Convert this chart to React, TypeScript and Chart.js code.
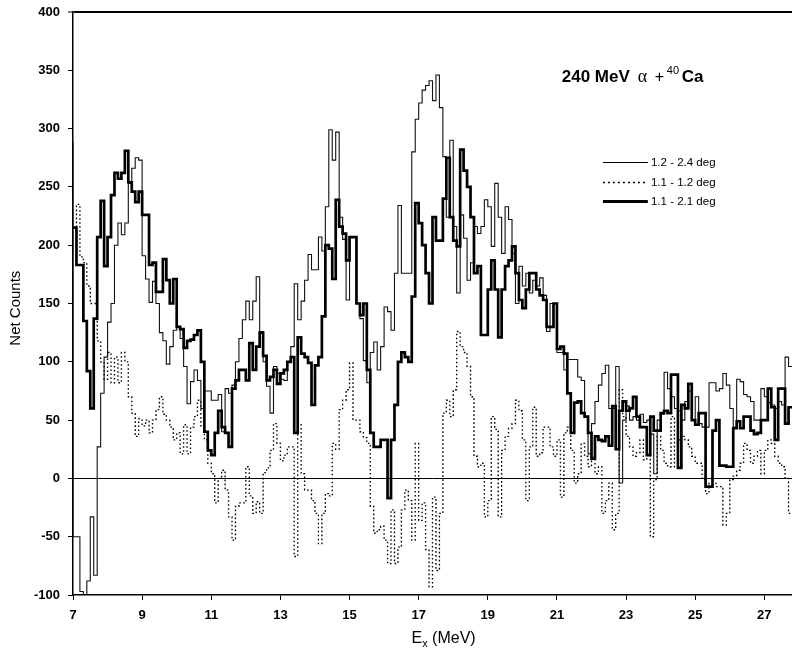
import React, { useEffect, useRef } from "react";
import { Chart, registerables } from "chart.js";

Chart.register(...registerables);

// ---- data -------------------------------------------------------------
const BIN_WIDTH = 0.1; // MeV per histogram channel
const BIN_START = 7.0; // first channel (thick and dotted spectra)
const THIN_START = 6.9; // thin spectrum has one channel just left of the axis

const X_MIN = 7;
const X_MAX = 27.8;
const Y_MIN = -100;
const Y_MAX = 400;
const X_TICKS = [7, 9, 11, 13, 15, 17, 19, 21, 23, 25, 27];
const Y_TICKS = [-100, -50, 0, 50, 100, 150, 200, 250, 300, 350, 400];

const SERIES_LABELS = ["1.2 - 2.4 deg", "1.1 - 1.2 deg", "1.1 - 2.1 deg"];

// 1.2 - 2.4 deg (thin line), channels from 6.9 MeV
const thinCounts: number[] = [
  288,
  -50, -50, -97, -105, -88, -33, -83, 27, 73, 104,
  134, 150, 200, 219, 209, 219, 253, 266, 275, 273,
  191, 171, 151, 169, 150, 125, 118, 98, 113, 127,
  130, 120, 96, 64, 83, 93, 84, 60, 75, 75,
  67, 67, 72, 40, 77, 73, 80, 100, 120, 136,
  152, 136, 152, 173, 126, 100, 79, 56, 96, 90,
  85, 84, 100, 113, 167, 136, 152, 170, 192, 179,
  179, 207, 195, 233, 299, 273, 297, 224, 205, 153,
  207, 207, 150, 137, 101, 82, 108, 117, 93, 113,
  147, 143, 127, 176, 234, 176, 176, 176, 280, 308,
  322, 333, 337, 341, 324, 346, 318, 276, 224, 290,
  216, 159, 226, 206, 170, 185, 216, 210, 216, 239,
  233, 199, 253, 224, 193, 233, 222, 193, 150, 182,
  165, 176, 159, 170, 165, 172, 157, 126, 150, 150,
  108, 108, 93, 102, 102, 102, 87, 84, 53, 21,
  47, 66, 80, 90, 97, 60, 60, 96, -4, 50,
  62, 50, 53, 50, 55, 48, 50, 38, 4, 50,
  55, 91, 77, 70, 60, 58, 50, 66, 75, 50,
  70, 47, 44, 44, 82, 82, 75, 77, 90, 80,
  60, 44, 85, 83, 72, 70, 66, 50, 50, 77,
  70, 65, 63, 60, 66, 63, 104, 96,
];

// 1.1 - 1.2 deg (dotted line), channels from 7.0 MeV
const dottedCounts: number[] = [
  215, 235, 190, 185, 165, 150, 150, 118, 100, 85,
  108, 82, 104, 82, 108, 100, 70, 56, 36, 51,
  45, 50, 39, 50, 59, 70, 55, 50, 44, 33,
  39, 21, 46, 21, 44, 53, 67, 45, 33, 13,
  4, -21, 0, 7, -10, -33, -53, -24, -21, -21,
  10, -15, -30, -20, -30, 5, 9, 24, 47, 30,
  15, 20, 27, 27, -67, 47, 4, -10, -10, -19,
  -30, -56, -30, -13, -15, 30, 25, 59, 67, 76,
  99, 50, 50, 40, 35, 30, -24, -47, -44, -41,
  -53, -73, -27, -73, -59, -27, -10, -19, -53, 30,
  -36, -21, -61, -93, -16, -79, -30, 56, 67, 53,
  76, 126, 113, 108, 96, 70, 19, 10, 13, -33,
  -19, 53, 42, -33, 24, 36, 43, 47, 67, 58,
  33, -19, 27, 61, 19, 22, 44, 44, 27, 19,
  33, -16, 39, 44, 24, -4, 4, 30, 19, 10,
  19, 4, 10, -30, -19, -4, -44, -30, 76, 53,
  36, 27, 19, 22, 33, 16, 27, -50, -1, 36,
  24, 13, 10, 53, 10, 33, 36, 33, 27, 19,
  13, 13, -1, -13, -4, -4, -7, -7, -40, -30,
  -1, 2, 7, 13, 30, 24, 13, 19, 24, 4,
  24, 33, 30, 19, 13, 10, 0, -30,
];

// 1.1 - 2.1 deg (thick line), channels from 7.0 MeV
const thickCounts: number[] = [
  215, 183, 183, 135, 92, 60, 137, 207, 238, 182,
  207, 243, 262, 257, 262, 281, 254, 246, 237, 246,
  226, 226, 183, 185, 160, 160, 188, 170, 150, 171,
  130, 128, 112, 118, 119, 123, 127, 100, 40, 24,
  20, 39, 58, 44, 39, 27, 77, 84, 93, 93,
  84, 116, 93, 113, 125, 105, 84, 87, 93, 81,
  90, 93, 100, 104, 39, 121, 107, 104, 99, 63,
  97, 104, 139, 200, 197, 171, 239, 216, 210, 187,
  207, 207, 150, 140, 150, 93, 39, 27, 27, 33,
  33, -17, 33, 63, 100, 108, 104, 100, 156, 236,
  219, 200, 176, 150, 224, 204, 204, 240, 275, 224,
  204, 199, 282, 264, 250, 224, 176, 182, 123, 123,
  162, 187, 162, 121, 162, 182, 187, 199, 176, 153,
  146, 162, 176, 176, 162, 157, 153, 130, 130, 150,
  111, 113, 107, 73, 39, 65, 66, 56, 53, 39,
  17, 36, 33, 32, 36, 28, 62, 25, 58, 66,
  58, 60, 70, 53, 44, 44, 20, 53, 41, 41,
  56, 58, 56, 89, 89, 9, 63, 60, 81, 50,
  46, 56, 56, -7, -7, 41, 50, 11, 11, 10,
  10, 43, 49, 43, 53, 53, 41, 38, 39, 50,
  50, 77, 61, 33, 77, 77, 47, 61,
];

// ---- helpers ----------------------------------------------------------
const FONT = '"Liberation Sans", Arial, Helvetica, sans-serif';
const SERIF = '"Liberation Serif", "DejaVu Serif", serif';

function toSteps(values: number[], start: number) {
  const pts = values.map((v, i) => ({
    x: Math.round((start + i * BIN_WIDTH) * 1000) / 1000,
    y: v,
  }));
  pts.push({
    x: Math.round((start + values.length * BIN_WIDTH) * 1000) / 1000,
    y: values[values.length - 1],
  });
  return pts;
}

const overlayPlugin = {
  id: "overlay",
  afterDraw(chart: any) {
    const { ctx, chartArea, scales } = chart;
    const xs = scales.x;
    const ys = scales.y;
    ctx.save();
    ctx.fillStyle = "#000";
    ctx.strokeStyle = "#000";

    // Y axis title
    ctx.save();
    ctx.font = `15px ${FONT}`;
    ctx.textAlign = "center";
    ctx.textBaseline = "middle";
    ctx.translate(16, ys.getPixelForValue(146));
    ctx.rotate(-Math.PI / 2);
    ctx.fillText("Net Counts", 0, 0);
    ctx.restore();

    // X axis title  E_x (MeV)
    {
      const big = `16px ${FONT}`;
      const small = `11px ${FONT}`;
      ctx.textBaseline = "alphabetic";
      ctx.textAlign = "left";
      ctx.font = big;
      const wE = ctx.measureText("E").width;
      const wRest = ctx.measureText(" (MeV)").width;
      ctx.font = small;
      const wx = ctx.measureText("x").width;
      const total = wE + wx + wRest;
      const cx = xs.getPixelForValue(17.72);
      const base = chartArea.bottom + 48;
      let x = cx - total / 2;
      ctx.font = big;
      ctx.fillText("E", x, base);
      x += wE;
      ctx.font = small;
      ctx.fillText("x", x, base + 4);
      x += wx;
      ctx.font = big;
      ctx.fillText(" (MeV)", x, base);
    }

    // Title: 240 MeV α + 40Ca
    {
      const x0 = xs.getPixelForValue(21.14);
      const base = ys.getPixelForValue(340);
      ctx.textAlign = "left";
      ctx.textBaseline = "alphabetic";
      ctx.font = `bold 17px ${FONT}`;
      ctx.fillText("240 MeV", x0, base);
      ctx.font = `18px ${SERIF}`;
      ctx.fillText("\u03b1", x0 + 76, base);
      ctx.font = `16px ${FONT}`;
      ctx.fillText("+", x0 + 93, base);
      ctx.font = `11px ${FONT}`;
      ctx.fillText("40", x0 + 105, base - 8);
      ctx.font = `bold 17px ${FONT}`;
      ctx.fillText("Ca", x0 + 120, base);
    }

    // Legend
    {
      const lx0 = xs.getPixelForValue(22.33);
      const lx1 = xs.getPixelForValue(23.63);
      const tx = xs.getPixelForValue(23.72);
      const rows = [271.5, 254.5, 238];
      const widths = [1.1, 1.3, 3];
      const dashes = [[], [2, 3], []];
      ctx.font = `11.5px ${FONT}`;
      ctx.textBaseline = "middle";
      ctx.textAlign = "left";
      rows.forEach((v, i) => {
        const y = Math.round(ys.getPixelForValue(v)) + 0.5;
        ctx.beginPath();
        ctx.setLineDash(dashes[i]);
        ctx.lineWidth = widths[i];
        ctx.moveTo(lx0, y);
        ctx.lineTo(lx1, y);
        ctx.stroke();
        ctx.setLineDash([]);
        ctx.fillText(SERIES_LABELS[i], tx, y);
      });
    }
    ctx.restore();
  },
};

export default function App() {
  const canvasRef = useRef<HTMLCanvasElement | null>(null);

  useEffect(() => {
    const canvas = canvasRef.current;
    if (!canvas) return;

    const chart = new Chart(canvas, {
      type: "line",
      data: {
        datasets: [
          {
            label: SERIES_LABELS[2],
            data: toSteps(thickCounts, BIN_START),
            borderColor: "#000",
            borderWidth: 2.7,
            stepped: "before",
            pointRadius: 0,
            fill: false,
            order: 0,
          },
          {
            label: SERIES_LABELS[0],
            data: toSteps(thinCounts, THIN_START),
            borderColor: "#111",
            borderWidth: 1.1,
            stepped: "before",
            pointRadius: 0,
            fill: false,
            order: 1,
          },
          {
            label: SERIES_LABELS[1],
            data: toSteps(dottedCounts, BIN_START),
            borderColor: "#000",
            borderWidth: 1.35,
            borderDash: [1.6, 2.4],
            stepped: "before",
            pointRadius: 0,
            fill: false,
            order: 2,
          },
        ],
      },
      options: {
        animation: false,
        responsive: false,
        maintainAspectRatio: false,
        parsing: true,
        layout: { padding: { top: 12, right: 0, left: 0, bottom: 0 } },
        plugins: {
          legend: { display: false },
          tooltip: { enabled: false },
          title: { display: false },
        },
        scales: {
          x: {
            type: "linear",
            min: X_MIN,
            max: X_MAX,
            afterBuildTicks: (axis: any) => {
              axis.ticks = X_TICKS.map((v) => ({ value: v }));
            },
            afterFit: (axis: any) => {
              axis.height = 55;
              axis.paddingLeft = 0;
              axis.paddingRight = 0;
            },
            ticks: {
              color: "#000",
              font: { family: FONT, size: 13, weight: "bold" },
              padding: 8,
              maxRotation: 0,
              autoSkip: false,
            },
            grid: {
              display: true,
              drawOnChartArea: false,
              drawTicks: true,
              tickLength: 5,
              tickColor: "#000",
              tickWidth: 1,
            },
            border: { display: true, color: "#000", width: 1.5 },
          },
          y: {
            type: "linear",
            min: Y_MIN,
            max: Y_MAX,
            afterBuildTicks: (axis: any) => {
              axis.ticks = Y_TICKS.map((v) => ({ value: v }));
            },
            afterFit: (axis: any) => {
              axis.width = 73;
              axis.paddingTop = 0;
              axis.paddingBottom = 0;
            },
            ticks: {
              color: "#000",
              font: { family: FONT, size: 13, weight: "bold" },
              padding: 8,
              autoSkip: false,
            },
            grid: {
              display: true,
              drawOnChartArea: true,
              drawTicks: true,
              tickLength: 5,
              tickColor: "#000",
              tickWidth: 1,
              color: (c: any) =>
                c.tick && (c.tick.value === 0 || c.tick.value === Y_MAX)
                  ? "#000"
                  : "rgba(0,0,0,0)",
              lineWidth: (c: any) =>
                c.tick && c.tick.value === Y_MAX ? 2 : 1,
            },
            border: { display: true, color: "#000", width: 1.5 },
          },
        },
      },
      plugins: [overlayPlugin],
    } as any);

    return () => {
      chart.destroy();
    };
  }, []);

  return (
    <div
      style={{
        position: "fixed",
        left: 0,
        top: 0,
        width: 792,
        height: 650,
        background: "#fff",
      }}
    >
      <canvas
        ref={canvasRef}
        width={792}
        height={650}
        style={{ width: 792, height: 650, display: "block" }}
      />
    </div>
  );
}
